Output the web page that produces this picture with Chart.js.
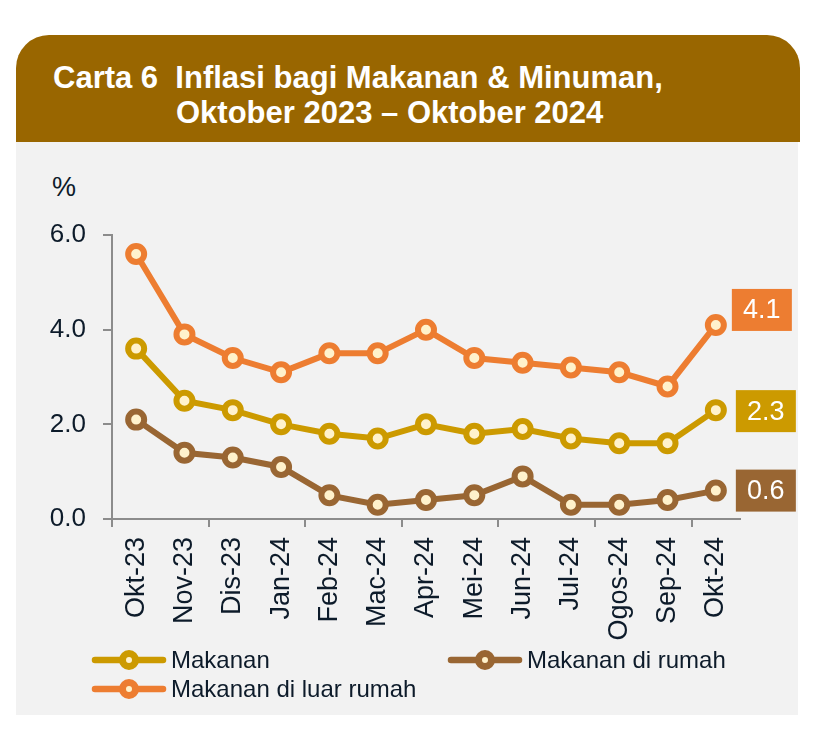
<!DOCTYPE html>
<html><head><meta charset="utf-8">
<script src="https://cdn.jsdelivr.net/npm/chart.js@4"></script>
<style>
html,body{margin:0;padding:0;background:#fff;width:818px;height:736px;overflow:hidden;font-family:"Liberation Sans",Arial,sans-serif;}
#hdr{position:absolute;left:16px;top:35px;width:784px;height:107px;background:#996600;border-radius:33px 33px 0 0;}
#bodyp{position:absolute;left:16px;top:142px;width:782px;height:573px;background:#F2F2F2;}
.t{position:absolute;color:#fff;font-weight:bold;font-size:31px;line-height:31px;white-space:pre;}
#pct{position:absolute;left:52px;top:174px;font-size:27px;line-height:27px;color:#0D1B2A;}
canvas{position:absolute;left:0;top:0;}
</style></head>
<body>
<div id="hdr"></div>
<div id="bodyp"></div>
<div class="t" style="left:53px;top:62px;">Carta 6  Inflasi bagi Makanan &amp; Minuman,</div>
<div class="t" style="left:176px;top:97px;">Oktober 2023 – Oktober 2024</div>
<div id="pct">%</div>
<canvas id="c" width="818" height="736"></canvas>
<script>
const categories = ['Okt-23','Nov-23','Dis-23','Jan-24','Feb-24','Mac-24','Apr-24','Mei-24','Jun-24','Jul-24','Ogos-24','Sep-24','Okt-24'];
const makanan      = [3.6, 2.5, 2.3, 2.0, 1.8, 1.7, 2.0, 1.8, 1.9, 1.7, 1.6, 1.6, 2.3];
const diRumah      = [2.1, 1.4, 1.3, 1.1, 0.5, 0.3, 0.4, 0.5, 0.9, 0.3, 0.3, 0.4, 0.6];
const diLuarRumah  = [5.6, 3.9, 3.4, 3.1, 3.5, 3.5, 4.0, 3.4, 3.3, 3.2, 3.1, 2.8, 4.1];
const seriesNames  = ['Makanan','Makanan di rumah','Makanan di luar rumah'];
const yTicks       = [0, 2, 4, 6];

const colors = ['#CC9A00','#996633','#ED7D31'];
const pointFill = '#FFF2CC';
const textColor = '#0D1B2A';
const FONT = '"Liberation Sans", Arial, sans-serif';

const endLabelStyle = [
  {dx:20, dy:1},
  {dx:20, dy:0},
  {dx:16, dy:-15}
];
const legendPos = [
  {x:92, y:660},
  {x:448, y:660},
  {x:92, y:689}
];

function mkDs(label, data, color){
  return {label, data, borderColor:color, backgroundColor:color, borderWidth:6,
    pointRadius:8, pointHoverRadius:8, pointBorderWidth:6, pointBorderColor:color,
    pointBackgroundColor:pointFill, tension:0, fill:false};
}

const endLabels = {
  id:'endLabels',
  afterDatasetsDraw(chart){
    const ctx = chart.ctx;
    ctx.save();
    chart.data.datasets.forEach((ds,i)=>{
      const meta = chart.getDatasetMeta(i);
      const pt = meta.data[meta.data.length-1];
      const st = endLabelStyle[i];
      const w = 60, h = 42;
      const x = pt.x + st.dx, cy = pt.y + st.dy;
      ctx.fillStyle = ds.borderColor;
      ctx.fillRect(x, cy - h/2, w, h);
      ctx.fillStyle = '#fff';
      ctx.font = '27px ' + FONT;
      ctx.textAlign = 'center';
      ctx.textBaseline = 'middle';
      ctx.fillText(ds.data[ds.data.length-1].toFixed(1), x + w/2, cy + 1);
    });
    ctx.restore();
  }
};

const customLegend = {
  id:'customLegend',
  afterDraw(chart){
    const ctx = chart.ctx;
    ctx.save();
    chart.data.datasets.forEach((ds,i)=>{
      const p = legendPos[i];
      ctx.strokeStyle = ds.borderColor;
      ctx.lineWidth = 6.5;
      ctx.lineCap = 'round';
      ctx.beginPath(); ctx.moveTo(p.x+3, p.y); ctx.lineTo(p.x+71, p.y); ctx.stroke();
      ctx.beginPath(); ctx.arc(p.x+37, p.y, 6.5, 0, Math.PI*2);
      ctx.fillStyle = pointFill; ctx.fill();
      ctx.lineWidth = 7; ctx.stroke();
      ctx.fillStyle = textColor;
      ctx.font = '24px ' + FONT;
      ctx.textAlign = 'left';
      ctx.textBaseline = 'middle';
      ctx.fillText(ds.label, p.x + 79, p.y + 1);
    });
    ctx.restore();
  }
};

new Chart(document.getElementById('c'), {
  type:'line',
  data:{
    labels:categories,
    datasets:[
      mkDs(seriesNames[0], makanan, colors[0]),
      mkDs(seriesNames[1], diRumah, colors[1]),
      mkDs(seriesNames[2], diLuarRumah, colors[2])
    ]
  },
  options:{
    responsive:false,
    animation:false,
    devicePixelRatio:1,
    layout:{padding:{left:0, top:235, right:78, bottom:0}},
    plugins:{legend:{display:false}, tooltip:{enabled:false}, title:{display:false}},
    scales:{
      x:{
        offset:true,
        grid:{offset:true, drawOnChartArea:false, drawTicks:true, tickLength:8, lineWidth:2,
          color:(c)=> (c.index % 2 === 0 ? '#8C8C8C' : 'rgba(0,0,0,0)')},
        border:{display:true, color:'#8C8C8C', width:2},
        ticks:{color:textColor, font:{family:FONT, size:27}, maxRotation:90, minRotation:90, autoSkip:false, padding:10},
        afterFit(s){ s.height = 217; }
      },
      y:{
        min:0, max:6,
        afterBuildTicks(s){ s.ticks = yTicks.map(v=>({value:v})); },
        grid:{drawOnChartArea:false, drawTicks:true, tickLength:9, lineWidth:2, color:'#8C8C8C'},
        border:{display:true, color:'#8C8C8C', width:2},
        ticks:{color:textColor, font:{family:FONT, size:26}, padding:17, callback:(v)=>Number(v).toFixed(1)},
        afterFit(s){ s.width = 112; }
      }
    }
  },
  plugins:[endLabels, customLegend]
});
</script>
</body></html>
